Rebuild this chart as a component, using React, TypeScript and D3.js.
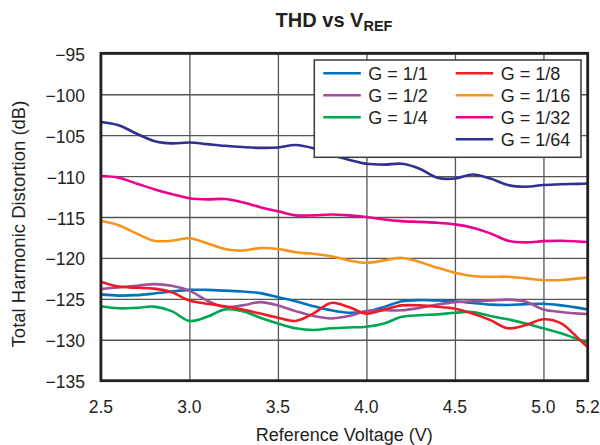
import { useRef, useEffect } from 'react';
import * as d3 from 'd3';

const voltage = [
  2.5, 2.6, 2.7, 2.8, 2.9, 3.0, 3.1, 3.2, 3.3, 3.4, 3.5, 3.6, 3.7, 3.8, 3.9,
  4.0, 4.1, 4.2, 4.3, 4.4, 4.5, 4.6, 4.7, 4.8, 4.9, 5.0, 5.1, 5.2, 5.25,
];

const g1 = [
  -124.45, -124.6, -124.55, -124.35, -124.1, -123.9, -123.9, -124.0, -124.1, -124.3, -124.8, -125.3, -125.9, -126.4, -126.7,
  -126.55, -126.0, -125.3, -125.15, -125.2, -125.3, -125.5, -125.7, -125.75, -125.65, -125.6, -125.8, -126.1, -126.3,
];
const g2 = [
  -123.8, -123.6, -123.4, -123.2, -123.4, -124.0, -125.2, -126.0, -125.8, -125.4, -125.8, -126.5, -127.1, -127.4, -127.1,
  -126.5, -126.4, -126.4, -126.1, -125.7, -125.4, -125.3, -125.2, -125.1, -125.35, -126.3, -126.6, -126.8, -126.85,
];
const g4 = [
  -125.9, -126.15, -126.1, -125.95, -126.5, -127.7, -127.2, -126.3, -126.5, -127.3, -128.0, -128.6, -128.8, -128.6, -128.5,
  -128.4, -128.0, -127.2, -127.0, -126.9, -126.7, -126.6, -127.1, -127.5, -128.0, -128.6, -129.2, -130.0, -130.35,
];
const g8 = [
  -122.9, -123.5, -123.65, -123.75, -124.2, -125.2, -125.6, -125.9, -126.3, -126.8, -127.3, -127.7, -126.8, -125.5, -126.0,
  -126.8, -126.3, -125.8, -125.8, -125.95, -126.2, -126.8, -127.6, -128.6, -128.2, -127.5, -128.0, -129.9, -130.9,
];
const g16 = [
  -115.5, -116.0, -117.0, -117.9, -117.9, -117.6, -118.2, -118.9, -119.1, -118.8, -118.9, -119.3, -119.5, -119.8, -120.3,
  -120.6, -120.3, -120.0, -120.5, -121.2, -121.8, -122.2, -122.3, -122.3, -122.5, -122.7, -122.7, -122.5, -122.4,
];
const g32 = [
  -110.0, -110.2, -110.9, -111.6, -112.2, -112.7, -112.85, -112.8, -113.2, -113.8, -114.3, -114.8, -114.8, -114.7, -114.8,
  -115.0, -115.3, -115.5, -115.6, -115.7, -115.9, -116.3, -117.0, -117.9, -118.1, -117.95, -117.9, -118.0, -118.05,
];
const g64 = [
  -103.4, -103.8, -104.8, -105.7, -106.0, -105.9, -106.1, -106.3, -106.45, -106.55, -106.5, -106.2, -106.6, -107.4, -108.0,
  -108.5, -108.6, -108.5, -109.1, -110.2, -110.3, -109.8, -110.3, -111.1, -111.3, -111.1, -111.0, -110.95, -110.9,
];

const seriesNames = ['G = 1/1', 'G = 1/2', 'G = 1/4', 'G = 1/8', 'G = 1/16', 'G = 1/32', 'G = 1/64'];
const seriesValues = [g1, g2, g4, g8, g16, g32, g64];
const seriesColors = ['#0072bc', '#a0519a', '#00a651', '#ed1c24', '#f7941d', '#ec008c', '#2e3192'];

const xTickValues = [2.5, 3.0, 3.5, 4.0, 4.5, 5.0, 5.25];
const xTickLabels = ['2.5', '3.0', '3.5', '4.0', '4.5', '5.0', '5.2'];
const yTickValues = [-95, -100, -105, -110, -115, -120, -125, -130, -135];

const FONT = '"Liberation Sans", Arial, Helvetica, sans-serif';

export default function App() {
  const svgRef = useRef<SVGSVGElement>(null);

  useEffect(() => {
    if (!svgRef.current) return;
    const svg = d3.select(svgRef.current);
    svg.selectAll('*').remove();

    const width = 600;
    const height = 445;
    const margin = { top: 53.3, right: 12.3, bottom: 64.3, left: 100.9 };
    const innerW = width - margin.left - margin.right;
    const innerH = height - margin.top - margin.bottom;

    const x = d3.scaleLinear().domain([2.5, 5.25]).range([0, innerW]);
    const y = d3.scaleLinear().domain([-135, -95]).range([innerH, 0]);

    const g = svg.append('g').attr('transform', `translate(${margin.left},${margin.top})`);

    // Grid
    g.append('g')
      .call(d3.axisLeft(y).tickValues(yTickValues).tickSize(-innerW).tickFormat(() => ''))
      .call((s) => { s.selectAll('line').attr('stroke', '#555').attr('stroke-width', 1.3); s.select('.domain').remove(); });
    g.append('g')
      .attr('transform', `translate(0,${innerH})`)
      .call(d3.axisBottom(x).tickValues(xTickValues.slice(0, -1)).tickSize(-innerH).tickFormat(() => ''))
      .call((s) => { s.selectAll('line').attr('stroke', '#555').attr('stroke-width', 1.3); s.select('.domain').remove(); });

    // Lines
    const line = d3.line<number>()
      .x((_, i) => x(voltage[i]))
      .y((d) => y(d))
      .curve(d3.curveCatmullRom.alpha(0.5));

    const clip = svg.append('clipPath').attr('id', 'plot-clip');
    clip.append('rect').attr('width', innerW).attr('height', innerH);
    const lines = g.append('g').attr('clip-path', 'url(#plot-clip)');
    seriesValues.forEach((vals, i) => {
      lines.append('path')
        .datum(vals)
        .attr('d', line)
        .attr('fill', 'none')
        .attr('stroke', seriesColors[i])
        .attr('stroke-width', 2.6)
        .attr('stroke-linejoin', 'round');
    });

    // Frame
    g.append('rect')
      .attr('width', innerW).attr('height', innerH)
      .attr('fill', 'none').attr('stroke', '#231f20').attr('stroke-width', 2.8);

    // Tick labels
    g.append('g')
      .selectAll('text')
      .data(yTickValues)
      .join('text')
      .attr('x', -16)
      .attr('y', (d) => y(d))
      .attr('dy', '0.43em')
      .attr('text-anchor', 'end')
      .attr('fill', '#231f20')
      .style('font-family', FONT).style('font-size', '17.5px')
      .text((d) => `\u2212${Math.abs(d)}`);

    g.append('g')
      .selectAll('text')
      .data(xTickValues)
      .join('text')
      .attr('x', (d) => x(d))
      .attr('y', innerH + 32)
      .attr('text-anchor', 'middle')
      .attr('fill', '#231f20')
      .style('font-family', FONT).style('font-size', '17.5px')
      .text((_, i) => xTickLabels[i]);

    // Axis titles
    svg.append('text')
      .attr('x', margin.left + innerW / 2).attr('y', 441)
      .attr('text-anchor', 'middle')
      .attr('fill', '#231f20')
      .style('font-family', FONT).style('font-size', '18px')
      .text('Reference Voltage (V)');
    svg.append('text')
      .attr('transform', `translate(25, ${margin.top + innerH / 2 + 7}) rotate(-90)`)
      .attr('text-anchor', 'middle')
      .attr('fill', '#231f20')
      .style('font-family', FONT).style('font-size', '18.5px')
      .text('Total Harmonic Distortion (dB)');

    // Title
    const title = svg.append('text')
      .attr('x', 334).attr('y', 26.7)
      .attr('text-anchor', 'middle')
      .attr('fill', '#231f20')
      .style('font-family', FONT).style('font-size', '20px').style('font-weight', 'bold');
    title.append('tspan').text('THD vs V');
    title.append('tspan').attr('dy', 4).style('font-size', '14.5px').text('REF');

    // Legend
    const legend = svg.append('g').attr('transform', 'translate(314.3, 60)');
    legend.append('rect')
      .attr('width', 266.7).attr('height', 97.3)
      .attr('fill', '#fff').attr('stroke', '#3a3a3a').attr('stroke-width', 1.5);
    seriesNames.forEach((name, i) => {
      const col = i < 3 ? 0 : 1;
      const row = i < 3 ? i : i - 3;
      const lx = col === 0 ? 9 : 141.4;
      const ly = 13.3 + row * 22;
      legend.append('line')
        .attr('x1', lx).attr('x2', lx + 37.5)
        .attr('y1', ly).attr('y2', ly)
        .attr('stroke', seriesColors[i]).attr('stroke-width', 2.6);
      legend.append('text')
        .attr('x', lx + 45).attr('y', ly + 6.5)
        .attr('fill', '#231f20')
        .style('font-family', FONT).style('font-size', '18px')
        .text(name);
    });
  }, []);

  return (
    <div style={{ position: 'absolute', left: 0, top: 0 }}>
      <svg ref={svgRef} width={600} height={445} style={{ display: 'block', background: '#fff' }} />
    </div>
  );
}
